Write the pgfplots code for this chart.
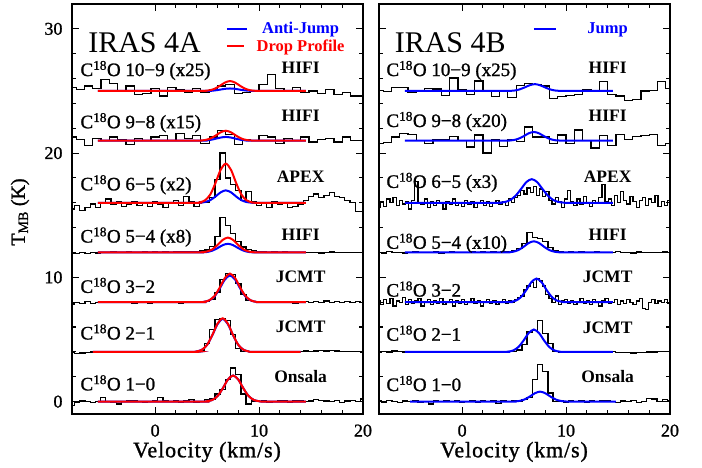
\documentclass[border=0pt]{standalone}
\usepackage{pgfplots}
\pgfplotsset{compat=1.18}
\usepgfplotslibrary{groupplots}
\usepackage{fontspec}
\setmainfont{Liberation Serif}
\newfontfamily\hv{Liberation Serif}[FakeBold=1.2]
\newfontfamily\hvs{Liberation Serif}[FakeBold=1.2, LetterSpace=4]
\definecolor{pblue}{RGB}{0,0,255}
\definecolor{pred}{RGB}{255,0,0}
\pgfplotsset{
 panel/.style={scale only axis, width=291pt, height=410pt,
  xmin=-8, xmax=20, ymin=-1, ymax=32,
  xtick={0,10,20}, ytick={0,10,20,30}, minor x tick num=4, minor y tick num=4,
  tick align=inside, xtick pos=both, ytick pos=both,
  major tick length=7pt, minor tick length=4pt,
  axis line style={line width=1.6pt}, tick style={black, line width=1.1pt},
  tick label style={font=\hv\fontsize{18}{18}\selectfont},
  /pgf/number format/assume math mode=true,
  xticklabel style={yshift=-7pt},
  yticklabel style={xshift=-6pt},
 },
 spec/.style={black, line width=1.25pt, const plot mark mid, mark=none},
 mblue/.style={pblue, line width=2pt, smooth, mark=none},
 mred/.style={pred, line width=2pt, smooth, mark=none},
}
\tikzset{
 lab/.style={anchor=base west, font=\hv\fontsize{19}{19}\selectfont, inner sep=0pt},
 inst/.style={anchor=base, font=\bfseries\fontsize{17.5}{17.5}\selectfont, inner sep=0pt},
 ttl/.style={anchor=base west, font=\fontsize{30}{30}\selectfont, inner sep=0pt},
 leg/.style={anchor=base, font=\bfseries\fontsize{16.5}{16.5}\selectfont, inner sep=0pt},
}
\begin{document}
\begin{tikzpicture}[x=1pt,y=1pt]
\begin{groupplot}[group style={group size=2 by 1, horizontal sep=16pt}, panel]
% ---------------- LEFT PANEL: IRAS 4A ----------------
\nextgroupplot
\coordinate (o) at (rel axis cs:0,0);
% 10-9
\addplot[spec] coordinates {(-8,25.3) (-7.2,25.1) (-6.4,25.4) (-5.6,25.2) (-4.8,25.9) (-4,25.6) (-3.2,25.0) (-2.4,25.4) (-1.6,24.7) (-0.8,24.8) (0,25.2) (0.8,24.6) (1.6,25.3) (2.4,25.1) (3.2,24.9) (4,25.2) (4.8,24.9) (5.6,25.1) (6.4,25.4) (7.2,25.5) (8,24.8) (8.8,24.9) (9.6,25.0) (10.4,25.5) (11.2,26.3) (12,25.2) (12.8,25.0) (13.6,25.3) (14.4,24.9) (15.2,25.0) (16,24.8) (16.8,25.1) (17.6,24.7) (18.4,24.9) (19.2,24.6) (20,24.6)};
\addplot[mblue] coordinates {(-5.5,25) (4.7,25) (5.2,25.01) (5.7,25.04) (6.2,25.1) (6.7,25.17) (7.2,25.2) (7.7,25.17) (8.2,25.1) (8.7,25.04) (9.2,25.01) (9.7,25) (14.5,25)};
\addplot[mred] coordinates {(-5.5,25) (4.2,25) (4.7,25.01) (5.2,25.05) (5.7,25.17) (6.2,25.4) (6.7,25.67) (7.2,25.8) (7.7,25.67) (8.2,25.4) (8.7,25.17) (9.2,25.05) (9.7,25.01) (10.2,25) (14.5,25)};
% 9-8
\addplot[spec] coordinates {(-8,21.3) (-7.2,21.1) (-6.4,20.6) (-5.6,21.2) (-4.8,21.0) (-4,21.3) (-3.2,21.1) (-2.4,20.7) (-1.6,21.2) (-0.8,21.0) (0,21.3) (0.8,21.4) (1.6,21.0) (2.4,21.6) (3.2,21.2) (4,21.4) (4.8,20.8) (5.6,21.3) (6.4,21.8) (7.2,21.5) (8,20.7) (8.8,21.1) (9.6,21.0) (10.4,21.4) (11.2,21.3) (12,20.8) (12.8,21.2) (13.6,21.0) (14.4,21.3) (15.2,20.9) (16,21.1) (16.8,21.2) (17.6,20.9) (18.4,21.3) (19.2,21.0) (20,21.0)};
\addplot[mblue] coordinates {(-5.5,21) (4.3,21) (4.8,21.02) (5.3,21.06) (5.8,21.15) (6.3,21.25) (6.8,21.3) (7.3,21.25) (7.8,21.15) (8.3,21.06) (8.8,21.02) (9.3,21) (14.5,21)};
\addplot[mred] coordinates {(-5.5,21) (3.8,21) (4.3,21.01) (4.8,21.05) (5.3,21.17) (5.8,21.4) (6.3,21.67) (6.8,21.8) (7.3,21.67) (7.8,21.4) (8.3,21.17) (8.8,21.05) (9.3,21.01) (9.8,21) (14.5,21)};
% 6-5
\addplot[spec] coordinates {(-8,15.5) (-7.5,15.8) (-7,15.4) (-6.5,15.6) (-6,15.9) (-5.5,15.6) (-5,16.0) (-4.5,16.3) (-4,15.9) (-3.5,16.1) (-3,15.7) (-2.5,15.9) (-2,16.1) (-1.5,15.8) (-1,16.0) (-0.5,15.7) (0,16.1) (0.5,15.9) (1,15.6) (1.5,16.0) (2,16.2) (2.5,15.8) (3,16.5) (3.5,16.1) (4,15.7) (4.5,16.1) (5,16.0) (5.5,16.4) (6,17.9) (6.5,20.0) (7,18.0) (7.5,17.5) (8,17.0) (8.5,16.2) (9,16.9) (9.5,16.1) (10,15.8) (10.5,16.0) (11,15.6) (11.5,16.1) (12,15.9) (12.5,16.0) (13,15.6) (13.5,15.7) (14,15.9) (14.5,16.2) (15,16.5) (15.5,16.7) (16,16.4) (16.5,16.6) (17,16.8) (17.5,16.5) (18,16.4) (18.5,16.2) (19,16.0) (19.5,15.3) (20,15.3)};
\addplot[mblue] coordinates {(-5.5,16) (3.8,16) (4.3,16.01) (4.8,16.06) (5.3,16.21) (5.8,16.5) (6.3,16.84) (6.8,17.0) (7.3,16.84) (7.8,16.5) (8.3,16.21) (8.8,16.06) (9.3,16.01) (9.8,16) (14.5,16)};
\addplot[mred] coordinates {(-5.5,16) (3.8,16) (4.3,16.04) (4.8,16.2) (5.3,16.66) (5.8,17.58) (6.3,18.65) (6.8,19.15) (7.3,18.65) (7.8,17.58) (8.3,16.66) (8.8,16.2) (9.3,16.04) (9.8,16) (14.5,16)};
% 5-4
\addplot[spec] coordinates {(-8,11.95) (-7.5,11.92) (-7,11.97) (-6.5,11.94) (-6,12.0) (-5.5,11.96) (-5,12.02) (-4.5,11.98) (-4,12.03) (-3.5,11.97) (-3,12.0) (-2.5,12.04) (-2,11.98) (-1.5,12.02) (-1,12.06) (-0.5,12.0) (0,12.03) (0.5,11.98) (1,12.05) (1.5,12.02) (2,12.08) (2.5,12.03) (3,12.06) (3.5,12.1) (4,12.05) (4.5,12.12) (5,12.2) (5.5,12.5) (6,13.3) (6.5,14.8) (7,14.2) (7.5,13.5) (8,12.9) (8.5,12.45) (9,12.25) (9.5,12.15) (10,12.08) (10.5,12.05) (11,12.02) (11.5,12.06) (12,12.0) (12.5,12.03) (13,11.98) (13.5,12.01) (14,12.0) (14.5,11.97) (15,12.02) (15.5,12.0) (16,11.96) (16.5,12.0) (17,12.03) (17.5,11.98) (18,12.0) (18.5,11.97) (19,12.01) (19.5,11.99) (20,12.0)};
\addplot[mblue] coordinates {(-5.5,12) (4,12) (4.5,12.01) (5,12.04) (5.5,12.15) (6,12.35) (6.5,12.59) (7,12.7) (7.5,12.59) (8,12.35) (8.5,12.15) (9,12.04) (9.5,12.01) (10,12) (14.5,12)};
\addplot[mred] coordinates {(-5.5,12) (4,12) (4.5,12.02) (5,12.08) (5.5,12.25) (6,12.6) (6.5,13.01) (7,13.2) (7.5,13.01) (8,12.6) (8.5,12.25) (9,12.08) (9.5,12.02) (10,12) (14.5,12)};
% 3-2
\addplot[spec] coordinates {(-8,7.85) (-7.5,7.95) (-7,7.9) (-6.5,8.05) (-6,7.92) (-5.5,7.98) (-5,8.06) (-4.5,7.95) (-4,8.0) (-3.5,8.08) (-3,7.96) (-2.5,8.02) (-2,7.93) (-1.5,8.05) (-1,8.0) (-0.5,7.9) (0,8.03) (0.5,7.97) (1,8.07) (1.5,7.98) (2,8.02) (2.5,7.94) (3,8.05) (3.5,7.98) (4,8.03) (4.5,7.96) (5,8.05) (5.5,8.2) (6,8.8) (6.5,9.8) (7,10.3) (7.5,10.2) (8,9.5) (8.5,8.6) (9,8.15) (9.5,8.05) (10,7.95) (10.5,8.08) (11,8.0) (11.5,7.95) (12,8.06) (12.5,7.98) (13,8.04) (13.5,7.92) (14,8.03) (14.5,8.08) (15,7.97) (15.5,8.05) (16,8.0) (16.5,8.1) (17,7.98) (17.5,8.04) (18,7.96) (18.5,8.06) (19,8.0) (19.5,8.05) (20,7.97)};
\addplot[mblue] coordinates {(-5.5,8) (4.2,8) (4.7,8.03) (5.2,8.14) (5.7,8.45) (6.2,9.08) (6.7,9.81) (7.2,10.15) (7.7,9.81) (8.2,9.08) (8.7,8.45) (9.2,8.14) (9.7,8.03) (10.2,8) (14.5,8)};
\addplot[mred] coordinates {(-5.5,8) (4.2,8) (4.7,8.03) (5.2,8.15) (5.7,8.49) (6.2,9.15) (6.7,9.93) (7.2,10.3) (7.7,9.93) (8.2,9.15) (8.7,8.49) (9.2,8.15) (9.7,8.03) (10.2,8) (14.5,8)};
% 2-1
\addplot[spec] coordinates {(-8,3.92) (-7.5,3.88) (-7,3.9) (-6.5,3.97) (-6,4.0) (-5.5,3.98) (-5,4.02) (-4.5,4.0) (-4,3.97) (-3.5,4.03) (-3,4.0) (-2.5,4.02) (-2,3.98) (-1.5,4.0) (-1,4.04) (-0.5,4.0) (0,3.98) (0.5,4.02) (1,4.0) (1.5,4.03) (2,3.99) (2.5,4.02) (3,4.0) (3.5,4.04) (4,4.02) (4.5,4.1) (5,4.7) (5.5,5.8) (6,6.6) (6.5,6.7) (7,6.5) (7.5,5.4) (8,4.3) (8.5,4.05) (9,4.03) (9.5,4.0) (10,4.04) (10.5,4.02) (11,4.06) (11.5,4.03) (12,4.05) (12.5,4.02) (13,4.06) (13.5,4.04) (14,4.05) (14.5,4.08) (15,4.05) (15.5,4.07) (16,4.1) (16.5,4.08) (17,4.12) (17.5,4.08) (18,4.05) (18.5,4.06) (19,4.03) (19.5,4.05) (20,4.0)};
\addplot[mblue] coordinates {(-6,4) (3.5,4) (4,4.04) (4.5,4.17) (5,4.56) (5.5,5.33) (6,6.23) (6.5,6.65) (7,6.23) (7.5,5.33) (8,4.56) (8.5,4.17) (9,4.04) (9.5,4) (14,4)};
\addplot[mred] coordinates {(-6,4) (3.5,4) (4,4.04) (4.5,4.17) (5,4.57) (5.5,5.35) (6,6.27) (6.5,6.7) (7,6.27) (7.5,5.35) (8,4.57) (8.5,4.17) (9,4.04) (9.5,4) (14,4)};
% 1-0
\addplot[spec] coordinates {(-8,-0.3) (-7.5,-0.1) (-7,0.05) (-6.5,0.0) (-6,-0.05) (-5.5,0.0) (-5,0.35) (-4.5,0.0) (-4,-0.05) (-3.5,-0.2) (-3,0.0) (-2.5,0.05) (-2,0.1) (-1.5,0.0) (-1,-0.1) (-0.5,0.0) (0,0.05) (0.5,0.3) (1,0.05) (1.5,0.0) (2,0.1) (2.5,-0.05) (3,0.05) (3.5,0.15) (4,-0.05) (4.5,0.0) (5,0.15) (5.5,0.2) (6,0.6) (6.5,1.0) (7,1.8) (7.5,2.7) (8,2.2) (8.5,0.6) (9,-0.2) (9.5,0.05) (10,0.0) (10.5,0.1) (11,-0.05) (11.5,0.0) (12,0.1) (12.5,0.05) (13,-0.05) (13.5,0.05) (14,0.1) (14.5,0.0) (15,0.05) (15.5,0.15) (16,0.1) (16.5,0.05) (17,0.0) (17.5,0.1) (18,-0.05) (18.5,0.05) (19,0.1) (19.5,0.0) (20,0.2)};
\addplot[mblue] coordinates {(-5.5,0) (4.5,0) (5,0.03) (5.5,0.13) (6,0.44) (6.5,1.05) (7,1.77) (7.5,2.1) (8,1.77) (8.5,1.05) (9,0.44) (9.5,0.13) (10,0.03) (10.5,0) (14.5,0)};
\addplot[mred] coordinates {(-5.5,0) (4.5,0) (5,0.03) (5.5,0.13) (6,0.44) (6.5,1.05) (7,1.77) (7.5,2.1) (8,1.77) (8.5,1.05) (9,0.44) (9.5,0.13) (10,0.03) (10.5,0) (14.5,0)};
% legend lines
\addplot[pblue, line width=2pt, mark=none] coordinates {(6.9,30.0) (8.85,30.0)};
\addplot[pred, line width=2pt, mark=none] coordinates {(6.9,28.6) (8.55,28.6)};
% texts
\node[ttl] at (axis cs:-6.45,28.1) {IRAS 4A};
\node[leg, text=pblue] at (axis cs:14,29.6) {Anti-Jump};
\node[leg, text=pred] at (axis cs:14,28.2) {Drop Profile};
\node[lab] at (axis cs:-7.2,26.2) {C\textsuperscript{18}O 10−9 (x25)};
\node[lab] at (axis cs:-7.2,22.0) {C\textsuperscript{18}O 9−8 (x15)};
\node[lab] at (axis cs:-7.2,17.0) {C\textsuperscript{18}O 6−5 (x2)};
\node[lab] at (axis cs:-7.2,12.8) {C\textsuperscript{18}O 5−4 (x8)};
\node[lab] at (axis cs:-7.2,8.75) {C\textsuperscript{18}O 3−2};
\node[lab] at (axis cs:-7.2,5.0) {C\textsuperscript{18}O 2−1};
\node[lab] at (axis cs:-7.2,0.9) {C\textsuperscript{18}O 1−0};
\node[inst] at (axis cs:14,26.4) {HIFI};
\node[inst] at (axis cs:14,22.55) {HIFI};
\node[inst] at (axis cs:14,17.6) {APEX};
\node[inst] at (axis cs:14,13.0) {HIFI};
\node[inst] at (axis cs:14,9.6) {JCMT};
\node[inst] at (axis cs:14,5.58) {JCMT};
\node[inst] at (axis cs:14,1.55) {Onsala};
% ---------------- RIGHT PANEL: IRAS 4B ----------------
\nextgroupplot[yticklabels={}]
% 10-9
\addplot[spec] coordinates {(-8,25.05) (-7.2,24.95) (-6.4,25.3) (-5.6,25.25) (-4.8,24.9) (-4,25.0) (-3.2,25.2) (-2.4,25.15) (-1.6,24.65) (-0.8,26.05) (0,25.1) (0.8,24.7) (1.6,25.8) (2.4,25.0) (3.2,24.55) (4,25.05) (4.8,24.5) (5.6,25.45) (6.4,25.6) (7.2,25.55) (8,25.4) (8.8,24.4) (9.6,24.55) (10.4,24.65) (11.2,24.7) (12,25.1) (12.8,25.0) (13.6,25.75) (14.4,24.7) (15.2,24.6) (16,24.25) (16.8,24.3) (17.6,25.0) (18.4,25.05) (19.2,25.75) (20,25.2)};
\addplot[mblue] coordinates {(-5.5,25) (4,25) (4.5,25.01) (5,25.03) (5.5,25.12) (6,25.28) (6.5,25.46) (7,25.55) (7.5,25.46) (8,25.28) (8.5,25.12) (9,25.03) (9.5,25.01) (10,25) (14.5,25)};
% 9-8
\addplot[spec] coordinates {(-8,20.8) (-7.2,20.85) (-6.4,21.3) (-5.6,21.6) (-4.8,21.5) (-4,21.0) (-3.2,20.75) (-2.4,21.1) (-1.6,21.05) (-0.8,21.35) (0,21.0) (0.8,20.5) (1.6,21.45) (2.4,20.0) (3.2,21.1) (4,20.55) (4.8,21.1) (5.6,20.95) (6.4,22.1) (7.2,21.3) (8,21.3) (8.8,20.8) (9.6,21.45) (10.4,20.75) (11.2,21.85) (12,21.0) (12.8,20.4) (13.6,21.4) (14.4,20.6) (15.2,21.5) (16,21.1) (16.8,21.35) (17.6,21.4) (18.4,21.5) (19.2,20.6) (20,20.8)};
\addplot[mblue] coordinates {(-5.5,21) (3.9,21) (4.4,21.01) (4.9,21.04) (5.4,21.15) (5.9,21.35) (6.4,21.59) (6.9,21.7) (7.4,21.59) (7.9,21.35) (8.4,21.15) (8.9,21.04) (9.4,21.01) (9.9,21) (14.5,21)};
% 6-5
\addplot[spec] coordinates {(-8,15.6) (-7.7,16.1) (-7.4,15.7) (-7.1,16.3) (-6.8,16.0) (-6.5,16.4) (-6.2,15.8) (-5.9,16.2) (-5.6,15.9) (-5.3,16.1) (-5,15.5) (-4.7,16.2) (-4.4,17.7) (-4.1,16.0) (-3.8,15.9) (-3.5,16.3) (-3.2,15.6) (-2.9,16.1) (-2.6,15.8) (-2.3,16.2) (-2,16.0) (-1.7,15.5) (-1.4,16.1) (-1.1,15.9) (-0.8,16.3) (-0.5,15.8) (-0.2,16.0) (0.1,15.7) (0.4,16.2) (0.7,15.9) (1,16.1) (1.3,15.6) (1.6,16.0) (1.9,16.2) (2.2,15.8) (2.5,16.1) (2.8,15.7) (3.1,16.0) (3.4,16.2) (3.7,15.9) (4,16.1) (4.3,15.8) (4.6,16.3) (4.9,16.0) (5.2,16.4) (5.5,16.6) (5.8,17.0) (6.1,16.7) (6.4,17.2) (6.7,16.8) (7,17.3) (7.3,16.6) (7.6,17.1) (7.9,16.5) (8.2,16.9) (8.5,16.2) (8.8,15.9) (9.1,16.4) (9.4,16.1) (9.7,15.6) (10,16.3) (10.3,17.0) (10.6,16.1) (10.9,15.8) (11.2,16.3) (11.5,15.9) (11.8,16.5) (12.1,16.0) (12.4,15.7) (12.7,16.2) (13,16.0) (13.3,16.4) (13.6,17.5) (13.9,16.1) (14.2,16.3) (14.5,15.8) (14.8,16.6) (15.1,16.0) (15.4,16.9) (15.7,16.2) (16,15.9) (16.3,16.5) (16.6,16.1) (16.9,15.6) (17.2,16.2) (17.5,16.4) (17.8,15.8) (18.1,16.3) (18.4,16.0) (18.7,16.6) (19,15.7) (19.3,16.1) (19.6,15.8) (19.9,16.2) (20.2,16.0)};
\addplot[mblue] coordinates {(-5.5,16) (3.2,16) (3.7,16.02) (4.2,16.08) (4.7,16.26) (5.2,16.62) (5.7,17.15) (6.2,17.68) (6.7,17.9) (7.2,17.68) (7.7,17.15) (8.2,16.62) (8.7,16.26) (9.2,16.08) (9.7,16.02) (10.2,16) (14.5,16)};
% 5-4
\addplot[spec] coordinates {(-8,12.0) (-7.5,11.95) (-7,12.05) (-6.5,11.98) (-6,12.02) (-5.5,11.95) (-5,12.0) (-4.5,12.04) (-4,11.97) (-3.5,12.02) (-3,11.99) (-2.5,12.05) (-2,11.96) (-1.5,12.01) (-1,12.04) (-0.5,11.98) (0,12.02) (0.5,11.97) (1,12.03) (1.5,12.0) (2,12.06) (2.5,11.98) (3,12.03) (3.5,12.0) (4,12.05) (4.5,12.08) (5,12.15) (5.5,12.3) (6,12.7) (6.5,13.6) (7,13.2) (7.5,13.1) (8,12.9) (8.5,12.4) (9,12.15) (9.5,12.05) (10,12.02) (10.5,12.06) (11,11.98) (11.5,12.03) (12,12.0) (12.5,11.97) (13,12.04) (13.5,12.0) (14,11.98) (14.5,12.02) (15,12.05) (15.5,11.97) (16,12.01) (16.5,11.96) (17,12.03) (17.5,12.0) (18,11.97) (18.5,12.02) (19,11.98) (19.5,12.03) (20,12.0)};
\addplot[mblue] coordinates {(-5.5,12) (3.9,12) (4.4,12.01) (4.9,12.06) (5.4,12.19) (5.9,12.45) (6.4,12.76) (6.9,12.9) (7.4,12.76) (7.9,12.45) (8.4,12.19) (8.9,12.06) (9.4,12.01) (9.9,12) (14.5,12)};
% 3-2
\addplot[spec] coordinates {(-8,8.1) (-7.7,7.8) (-7.4,8.2) (-7.1,7.9) (-6.8,8.3) (-6.5,7.7) (-6.2,8.1) (-5.9,8.0) (-5.6,8.4) (-5.3,7.8) (-5,8.2) (-4.7,7.9) (-4.4,8.1) (-4.1,8.3) (-3.8,7.7) (-3.5,8.0) (-3.2,8.2) (-2.9,7.8) (-2.6,8.1) (-2.3,7.9) (-2,8.3) (-1.7,7.8) (-1.4,8.0) (-1.1,8.2) (-0.8,7.7) (-0.5,8.1) (-0.2,7.9) (0.1,8.2) (0.4,7.8) (0.7,8.0) (1,8.3) (1.3,7.9) (1.6,8.1) (1.9,7.7) (2.2,8.0) (2.5,8.2) (2.8,7.9) (3.1,8.1) (3.4,7.8) (3.7,8.0) (4,8.2) (4.3,7.9) (4.6,8.1) (4.9,8.0) (5.2,8.2) (5.5,8.4) (5.8,8.5) (6.1,9.0) (6.4,9.3) (6.7,9.6) (7,9.2) (7.3,9.9) (7.6,9.7) (7.9,9.3) (8.2,8.6) (8.5,8.3) (8.8,8.0) (9.1,8.5) (9.4,7.8) (9.7,8.1) (10,8.2) (10.3,7.9) (10.6,8.1) (10.9,7.8) (11.2,8.0) (11.5,8.3) (11.8,7.9) (12.1,8.1) (12.4,7.8) (12.7,8.2) (13,8.0) (13.3,7.7) (13.6,8.1) (13.9,8.3) (14.2,7.9) (14.5,8.0) (14.8,8.2) (15.1,7.8) (15.4,8.1) (15.7,7.9) (16,8.2) (16.3,8.0) (16.6,7.8) (16.9,8.1) (17.2,8.3) (17.5,7.5) (17.8,7.4) (18.1,8.0) (18.4,8.2) (18.7,7.9) (19,8.1) (19.3,8.0) (19.6,8.2) (19.9,7.9) (20.2,8.0)};
\addplot[mblue] coordinates {(-5.5,8) (4.15,8) (4.65,8.03) (5.15,8.12) (5.65,8.4) (6.15,8.95) (6.65,9.6) (7.15,9.9) (7.65,9.6) (8.15,8.95) (8.65,8.4) (9.15,8.12) (9.65,8.03) (10.15,8) (14.5,8)};
% 2-1
\addplot[spec] coordinates {(-8,3.95) (-7.5,4.05) (-7,4.0) (-6.5,4.08) (-6,4.02) (-5.5,3.98) (-5,4.03) (-4.5,4.0) (-4,4.05) (-3.5,3.97) (-3,4.02) (-2.5,4.0) (-2,3.98) (-1.5,4.04) (-1,4.0) (-0.5,3.97) (0,4.03) (0.5,4.0) (1,4.02) (1.5,3.98) (2,4.05) (2.5,4.0) (3,4.02) (3.5,3.98) (4,4.04) (4.5,4.06) (5,4.02) (5.5,4.15) (6,4.6) (6.5,5.6) (7,5.75) (7.5,6.5) (8,5.5) (8.5,4.7) (9,4.05) (9.5,4.0) (10,3.98) (10.5,4.03) (11,4.0) (11.5,4.05) (12,3.98) (12.5,4.02) (13,4.0) (13.5,4.04) (14,3.99) (14.5,4.02) (15,3.97) (15.5,3.95) (16,3.93) (16.5,3.9) (17,3.92) (17.5,3.95) (18,3.98) (18.5,4.0) (19,4.03) (19.5,4.05) (20,4.06)};
\addplot[mblue] coordinates {(-5.5,4) (3.9,4) (4.4,4.02) (4.9,4.11) (5.4,4.38) (5.9,4.9) (6.4,5.51) (6.9,5.8) (7.4,5.51) (7.9,4.9) (8.4,4.38) (8.9,4.11) (9.4,4.02) (9.9,4) (14.5,4)};
% 1-0
\addplot[spec] coordinates {(-8,0.05) (-7.5,-0.05) (-7,0.1) (-6.5,0.0) (-6,-0.1) (-5.5,0.05) (-5,0.0) (-4.5,0.1) (-4,-0.05) (-3.5,0.0) (-3,-0.2) (-2.5,0.05) (-2,0.0) (-1.5,0.1) (-1,0.0) (-0.5,0.05) (0,-0.05) (0.5,0.0) (1,0.1) (1.5,-0.1) (2,0.05) (2.5,0.0) (3,0.1) (3.5,-0.15) (4,0.05) (4.5,0.0) (5,0.1) (5.5,0.05) (6,0.15) (6.5,0.35) (7,1.8) (7.5,3.0) (8,2.45) (8.5,0.7) (9,0.0) (9.5,0.05) (10,-0.05) (10.5,0.1) (11,0.0) (11.5,0.05) (12,-0.1) (12.5,0.05) (13,0.0) (13.5,0.1) (14,0.05) (14.5,0.0) (15,-0.05) (15.5,0.05) (16,0.0) (16.5,0.1) (17,-0.05) (17.5,0.0) (18,0.25) (18.5,0.2) (19,0.0) (19.5,0.15) (20,0.1)};
\addplot[mblue] coordinates {(-5,0) (4.5,0) (5,0.01) (5.5,0.05) (6,0.17) (6.5,0.4) (7,0.67) (7.5,0.8) (8,0.67) (8.5,0.4) (9,0.17) (9.5,0.05) (10,0.01) (10.5,0) (14.8,0)};
% legend line
\addplot[pblue, line width=2pt, mark=none] coordinates {(6.9,30.0) (9.0,30.0)};
% texts
\node[ttl] at (axis cs:-6.5,28.1) {IRAS 4B};
\node[leg, text=pblue] at (axis cs:14,29.6) {Jump};
\node[lab] at (axis cs:-7.3,26.2) {C\textsuperscript{18}O 10−9 (x25)};
\node[lab] at (axis cs:-7.3,22.1) {C\textsuperscript{18}O 9−8 (x20)};
\node[lab] at (axis cs:-7.3,17.2) {C\textsuperscript{18}O 6−5 (x3)};
\node[lab] at (axis cs:-7.3,12.3) {C\textsuperscript{18}O 5−4 (x10)};
\node[lab] at (axis cs:-7.3,8.45) {C\textsuperscript{18}O 3−2};
\node[lab] at (axis cs:-7.3,4.9) {C\textsuperscript{18}O 2−1};
\node[lab] at (axis cs:-7.3,0.85) {C\textsuperscript{18}O 1−0};
\node[inst] at (axis cs:14,26.4) {HIFI};
\node[inst] at (axis cs:14,22.55) {HIFI};
\node[inst] at (axis cs:14,17.6) {APEX};
\node[inst] at (axis cs:14,13.0) {HIFI};
\node[inst] at (axis cs:14,9.55) {JCMT};
\node[inst] at (axis cs:14,5.5) {JCMT};
\node[inst] at (axis cs:14,1.55) {Onsala};
\end{groupplot}
% labels and page frame, relative to the lower-left corner of the left panel
\begin{scope}[shift={(o)}]
\node[rotate=90, font=\hv\fontsize{20}{20}\selectfont] at (-52,202) {T\textsubscript{MB} (K)};
\node[font=\hvs\fontsize{22}{22}\selectfont] at (135,-38) {Velocity (km/s)};
\node[font=\hvs\fontsize{22}{22}\selectfont] at (442,-38) {Velocity (km/s)};
\path (-72,-54) rectangle (630,414);
\end{scope}
\end{tikzpicture}
\end{document}
